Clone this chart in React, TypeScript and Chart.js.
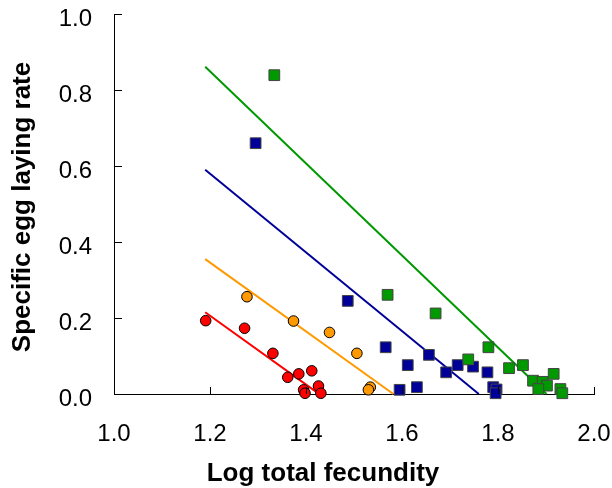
import React, { useEffect, useRef } from "react";
import { Chart, registerables } from "chart.js";

Chart.register(...registerables);

// Red circles
const redX = [1.191, 1.272, 1.331, 1.362, 1.385, 1.412, 1.426, 1.395, 1.398, 1.431];
const redY = [0.193, 0.173, 0.107, 0.044, 0.053, 0.061, 0.021, 0.011, 0.002, 0.002];
// Orange circles
const orangeX = [1.277, 1.374, 1.449, 1.506, 1.534, 1.53];
const orangeY = [0.256, 0.192, 0.162, 0.107, 0.018, 0.011];
// Blue squares
const blueX = [1.295, 1.487, 1.566, 1.612, 1.656, 1.692, 1.716, 1.748, 1.778, 1.595, 1.631, 1.79, 1.797, 1.795];
const blueY = [0.66, 0.245, 0.123, 0.076, 0.103, 0.057, 0.076, 0.072, 0.057, 0.011, 0.018, 0.018, 0.012, 0.002];
// Green squares
const greenX = [1.334, 1.57, 1.67, 1.78, 1.738, 1.823, 1.852, 1.916, 1.873, 1.893, 1.902, 1.884, 1.93, 1.934];
const greenY = [0.839, 0.261, 0.212, 0.123, 0.091, 0.068, 0.076, 0.053, 0.035, 0.032, 0.022, 0.013, 0.013, 0.002];

// Regression lines (start/end)
const redLineX = [1.19, 1.422];
const redLineY = [0.215, 0.005];
const orangeLineX = [1.19, 1.582];
const orangeLineY = [0.355, 0.0];
const blueLineX = [1.19, 1.76];
const blueLineY = [0.59, 0.0];
const greenLineX = [1.19, 1.901];
const greenLineY = [0.861, 0.0];

const xTicks = [1.0, 1.2, 1.4, 1.6, 1.8, 2.0];
const yTicks = [0.0, 0.2, 0.4, 0.6, 0.8, 1.0];

const xTitle = "Log total fecundity";
const yTitle = "Specific egg laying rate";

const RED = "#FF0000";
const ORANGE = "#FF9900";
const BLUE = "#000099";
const GREEN = "#009900";

const pts = (xs: number[], ys: number[]) => xs.map((x, i) => ({ x, y: ys[i] }));

const axisDecor = {
  id: "axisDecor",
  afterDraw(chart: any) {
    const { ctx, scales, chartArea } = chart;
    const xs = scales.x;
    const ys = scales.y;
    const left = chartArea.left;
    const bottom = chartArea.bottom;
    ctx.save();
    ctx.strokeStyle = "#000";
    ctx.lineWidth = 1;
    ctx.beginPath();
    yTicks.forEach((v) => {
      const py = Math.round(ys.getPixelForValue(v)) + 0.5;
      ctx.moveTo(left, py);
      ctx.lineTo(left + 8, py);
    });
    xTicks.forEach((v) => {
      const px = Math.round(xs.getPixelForValue(v)) + 0.5;
      ctx.moveTo(px, bottom);
      ctx.lineTo(px, bottom - 7);
    });
    ctx.stroke();

    ctx.fillStyle = "#000";
    ctx.font = "bold 26px 'Liberation Sans', Arial, sans-serif";
    ctx.textAlign = "center";
    ctx.textBaseline = "alphabetic";
    // x-axis title, slightly left of the plot centre as in the original figure
    const xc = (chartArea.left + chartArea.right) / 2 - 31;
    ctx.fillText(xTitle, xc, bottom + 87);
    // y-axis title
    const yc = (chartArea.top + chartArea.bottom) / 2 + 3;
    ctx.translate(30, yc);
    ctx.rotate(-Math.PI / 2);
    ctx.fillText(yTitle, 0, 0);
    ctx.restore();
  },
};

export default function App() {
  const ref = useRef<HTMLCanvasElement | null>(null);
  useEffect(() => {
    if (!ref.current) return;
    const lineDs = (xs: number[], ys: number[], color: string) => ({
      type: "scatter" as const,
      data: pts(xs, ys),
      showLine: true,
      borderColor: color,
      borderWidth: 2,
      pointRadius: 0,
      pointHoverRadius: 0,
      order: 2,
    });
    const circleDs = (xs: number[], ys: number[], color: string) => ({
      type: "scatter" as const,
      data: pts(xs, ys),
      pointStyle: "circle",
      pointRadius: 5.3,
      backgroundColor: color,
      borderColor: "#000",
      borderWidth: 1,
      order: 1,
    });
    const squareDs = (xs: number[], ys: number[], color: string) => ({
      type: "scatter" as const,
      data: pts(xs, ys),
      pointStyle: "rect",
      pointRadius: 7.6,
      backgroundColor: color,
      borderColor: "#444",
      borderWidth: 1,
      order: 1,
    });
    const chart = new Chart(ref.current, {
      type: "scatter",
      data: {
        datasets: [
          lineDs(greenLineX, greenLineY, GREEN),
          lineDs(blueLineX, blueLineY, BLUE),
          lineDs(orangeLineX, orangeLineY, ORANGE),
          lineDs(redLineX, redLineY, RED),
          squareDs(greenX, greenY, GREEN),
          squareDs(blueX, blueY, BLUE),
          circleDs(orangeX, orangeY, ORANGE),
          circleDs(redX, redY, RED),
        ] as any,
      },
      options: {
        animation: false,
        responsive: false,
        clip: false as any,
        layout: { padding: { top: 14, right: 18, left: 0, bottom: 0 } },
        plugins: { legend: { display: false }, tooltip: { enabled: false } },
        scales: {
          x: {
            type: "linear",
            min: 1.0,
            max: 2.0,
            afterFit: (s: any) => {
              s.height = 94;
              s.paddingLeft = 0;
              s.paddingRight = 0;
            },
            afterBuildTicks: (s: any) => {
              s.ticks = xTicks.map((v) => ({ value: v }));
            },
            grid: { display: true, drawOnChartArea: false, drawTicks: false },
            border: { display: true, color: "#000", width: 1 },
            ticks: {
              padding: 26,
              color: "#000",
              font: { family: "Liberation Sans", size: 24 },
              callback: (v: any) => Number(v).toFixed(1),
            },
            title: { display: false },
          },
          y: {
            type: "linear",
            min: 0,
            max: 1.0,
            afterFit: (s: any) => {
              s.width = 114;
              s.paddingTop = 0;
              s.paddingBottom = 0;
            },
            afterBuildTicks: (s: any) => {
              s.ticks = yTicks.map((v) => ({ value: v }));
            },
            grid: { display: true, drawOnChartArea: false, drawTicks: false },
            border: { display: true, color: "#000", width: 1 },
            ticks: {
              padding: 22,
              labelOffset: 5,
              color: "#000",
              font: { family: "Liberation Sans", size: 24 },
              callback: (v: any) => Number(v).toFixed(1),
            },
            title: { display: false },
          },
        },
      },
      plugins: [axisDecor],
    });
    return () => chart.destroy();
  }, []);
  return (
    <div style={{ position: "absolute", left: 0, top: 0, width: 612, height: 488, background: "#fff" }}>
      <canvas ref={ref} width={612} height={488} style={{ width: 612, height: 488, display: "block" }} />
    </div>
  );
}
